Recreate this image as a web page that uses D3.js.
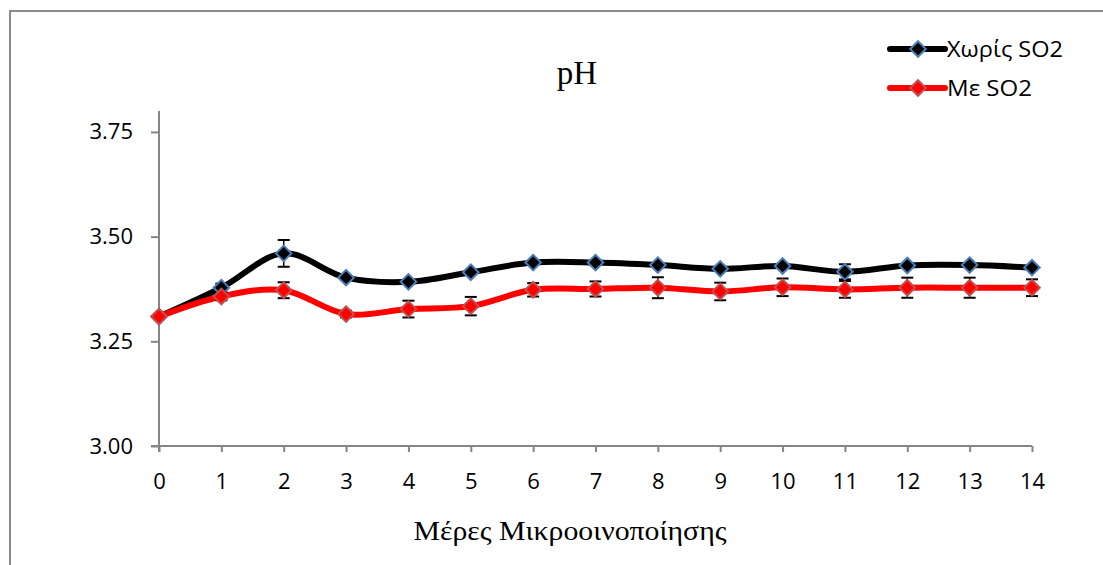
<!DOCTYPE html>
<html>
<head>
<meta charset="utf-8">
<script src="https://cdn.jsdelivr.net/npm/d3@7/dist/d3.min.js"></script>
<style>
  html, body { margin: 0; padding: 0; background: #fff; }
  svg { display: block; }
</style>
</head>
<body>
<svg id="chart" width="1103" height="565"></svg>
<script>
// Days of micro-vinification
const days = [0, 1, 2, 3, 4, 5, 6, 7, 8, 9, 10, 11, 12, 13, 14];

// pH without SO2
const phNoSO2 = [3.309, 3.378, 3.460, 3.402, 3.392, 3.415, 3.438, 3.438, 3.432, 3.423, 3.430, 3.416, 3.431, 3.432, 3.426];
const errNoSO2 = [0.004, 0.010, 0.032, 0.005, 0.005, 0.005, 0.005, 0.005, 0.005, 0.005, 0.005, 0.018, 0.005, 0.005, 0.005];

// pH with SO2
const phSO2 = [3.309, 3.357, 3.372, 3.315, 3.327, 3.334, 3.373, 3.375, 3.378, 3.369, 3.379, 3.374, 3.378, 3.378, 3.378];
const errSO2 = [0.004, 0.009, 0.019, 0.008, 0.020, 0.022, 0.016, 0.018, 0.025, 0.021, 0.021, 0.020, 0.024, 0.024, 0.020];

const yTicks = [3.00, 3.25, 3.50, 3.75];
const seriesNames = ["Χωρίς SO2", "Με SO2"];

const series = [
  { name: seriesNames[0], values: phNoSO2, errors: errNoSO2, line: "#000000", fill: "#000000", stroke: "#4a7ebb", legendWidth: 116 },
  { name: seriesNames[1], values: phSO2, errors: errSO2, line: "#ff0000", fill: "#ff0000", stroke: "#c0504d", legendWidth: 85 }
];

const svg = d3.select("#chart");
const axisColor = "#868686";
const sans = "'Open Sans', 'Liberation Sans', sans-serif";
const serif = "'Liberation Serif', 'DejaVu Serif', serif";

// Outer chart frame
svg.append("path")
  .attr("d", "M10,565 L10,11 L1103,11")
  .attr("fill", "none")
  .attr("stroke", "#8c8c8c")
  .attr("stroke-width", 2);

const x = d3.scaleLinear().domain([0, 14]).range([159, 1032]);
const y = d3.scaleLinear().domain([3.0, 3.8]).range([446, 111]);

// Y axis
const yAxis = d3.axisLeft(y).tickValues(yTicks).tickFormat(d3.format(".2f")).tickSize(8).tickPadding(18);
const gy = svg.append("g").attr("transform", `translate(${x(0)},0)`).call(yAxis);
gy.select(".domain").attr("stroke", axisColor).attr("stroke-width", 2).attr("d", `M0,${y(3.0) + 6}V${y(3.8)}`);
gy.selectAll(".tick line").attr("stroke", axisColor).attr("stroke-width", 2);
gy.selectAll(".tick text").attr("fill", "#000").style("font-family", sans).style("font-size", "22px");

// X axis
const xAxis = d3.axisBottom(x).tickValues(days).tickFormat(d3.format("d")).tickSize(6).tickPadding(21);
const gx = svg.append("g").attr("transform", `translate(0,${y(3.0)})`).call(xAxis);
gx.select(".domain").attr("stroke", axisColor).attr("stroke-width", 2).attr("d", `M${x(0) - 8},0H${x(14)}`);
gx.selectAll(".tick line").attr("stroke", axisColor).attr("stroke-width", 2);
gx.selectAll(".tick text").attr("fill", "#000").style("font-family", sans).style("font-size", "22px");

// Titles
svg.append("text")
  .attr("x", 577).attr("y", 84)
  .attr("text-anchor", "middle")
  .style("font-family", serif).style("font-size", "33px")
  .text("pH");

svg.append("text")
  .attr("x", 570).attr("y", 540)
  .attr("text-anchor", "middle")
  .attr("textLength", 313)
  .attr("lengthAdjust", "spacingAndGlyphs")
  .style("font-family", serif).style("font-size", "27px")
  .text("Μέρες Μικροοινοποίησης");

const line = d3.line()
  .x((d, i) => x(days[i]))
  .y(d => y(d))
  .curve(d3.curveCatmullRom.alpha(0.5));

function drawMarker(g, cx, cy, s) {
  g.append("rect")
    .attr("x", -5.5).attr("y", -5.5).attr("width", 11).attr("height", 11)
    .attr("transform", `translate(${cx},${cy}) rotate(45)`)
    .attr("fill", s.fill)
    .attr("stroke", s.stroke)
    .attr("stroke-width", 2);
}

// Series lines
series.forEach(s => {
  svg.append("path")
    .attr("d", line(s.values))
    .attr("fill", "none")
    .attr("stroke", s.line)
    .attr("stroke-width", 6)
    .attr("stroke-linejoin", "round");
});

// Error bars and markers
series.forEach(s => {
  const g = svg.append("g");
  s.values.forEach((v, i) => {
    const cx = x(days[i]);
    const y1 = y(v + s.errors[i]);
    const y2 = y(v - s.errors[i]);
    g.append("line").attr("x1", cx).attr("x2", cx).attr("y1", y1).attr("y2", y2)
      .attr("stroke", "#000").attr("stroke-width", 1.5);
    [y1, y2].forEach(yy => {
      g.append("line").attr("x1", cx - 6).attr("x2", cx + 6).attr("y1", yy).attr("y2", yy)
        .attr("stroke", "#000").attr("stroke-width", 2);
    });
  });
  s.values.forEach((v, i) => drawMarker(g, x(days[i]), y(v), s));
});

// Legend
const legend = svg.append("g");
series.forEach((s, i) => {
  const ly = 49 + i * 39;
  legend.append("line")
    .attr("x1", 890).attr("x2", 945).attr("y1", ly).attr("y2", ly)
    .attr("stroke", s.line).attr("stroke-width", 6).attr("stroke-linecap", "round");
  drawMarker(legend, 918, ly, s);
  legend.append("text")
    .attr("x", 947).attr("y", ly + 8)
    .attr("textLength", s.legendWidth)
    .attr("lengthAdjust", "spacingAndGlyphs")
    .style("font-family", sans).style("font-size", "22px")
    .text(s.name);
});
</script>
</body>
</html>
